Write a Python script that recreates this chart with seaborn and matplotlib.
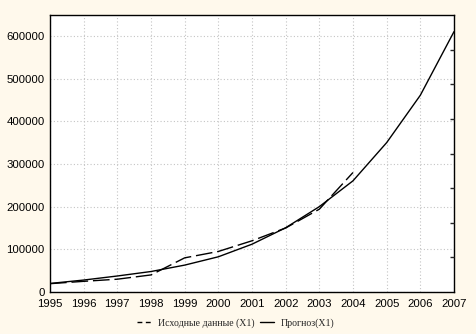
import matplotlib
matplotlib.use("Agg")
import matplotlib.pyplot as plt
import seaborn as sns
import pandas as pd
from matplotlib.lines import Line2D

# Observed series (1995-2004) and exponential forecast (1995-2007)
years_obs = [1995, 1996, 1997, 1998, 1999, 2000, 2001, 2002, 2003, 2004]
values_obs = [19500, 25000, 30000, 40000, 80000, 95000, 120000, 150000, 194000, 280000]

years_fc = [1995, 1996, 1997, 1998, 1999, 2000, 2001, 2002, 2003, 2004, 2005, 2006, 2007]
values_fc = [20000, 28000, 37500, 48000, 63000, 82500, 112000, 150500, 200000, 260500, 350000, 461000, 610000]

label_obs = "Исходные данные (Х1)"
label_fc = "Прогноз(Х1)"

df_obs = pd.DataFrame({"year": years_obs, "value": values_obs})
df_fc = pd.DataFrame({"year": years_fc, "value": values_fc})

sns.set_style("white")
plt.rcParams["font.family"] = ["Liberation Sans", "DejaVu Sans"]

bg = "#FFF9EC"
fig = plt.figure(figsize=(4.76, 3.34), dpi=100, facecolor=bg)
ax = fig.add_axes([50 / 476, 1 - 292 / 334, 404 / 476, 277 / 334])
ax.set_facecolor("white")

sns.lineplot(data=df_obs, x="year", y="value", ax=ax, color="black",
             linewidth=1.0)
sns.lineplot(data=df_fc, x="year", y="value", ax=ax, color="black",
             linewidth=1.0)
ax.lines[0].set_dashes((12, 3.5))

ax.set_xlim(1995, 2007)
ax.set_ylim(0, 649000)
ax.set_xticks(years_fc)
ax.set_xticklabels([str(y) for y in years_fc])
ax.set_yticks([0, 100000, 200000, 300000, 400000, 500000, 600000])
ax.set_yticklabels(["0", "100000", "200000", "300000", "400000", "500000", "600000"])
ax.set_xlabel("")
ax.set_ylabel("")

ax.grid(True, color="#C4C4C4", linestyle=(0, (1, 2)), linewidth=0.8)
ax.tick_params(axis="both", labelsize=8.2, colors="black", length=0)
ax.tick_params(axis="x", pad=5)
ax.tick_params(axis="y", pad=4)

for sp in ax.spines.values():
    sp.set_color("black")
    sp.set_linewidth(1.0)

# Right-side minor ticks dividing the height into eighths
ax2 = ax.twinx()
ax2.set_ylim(0, 8)
ax2.set_yticks(range(1, 8))
ax2.tick_params(axis="y", direction="in", length=3, labelright=False, width=1)
for sp in ax2.spines.values():
    sp.set_visible(False)

handles = [
    Line2D([], [], color="black", linewidth=1.0, dashes=(3.5, 2.5)),
    Line2D([], [], color="black", linewidth=1.0),
]
fig.legend(handles, [label_obs, label_fc], loc="center",
           bbox_to_anchor=(236 / 476, 1 - 323 / 334), ncol=2, frameon=False,
           prop={"family": ["Liberation Serif", "DejaVu Serif"], "size": 7.1},
           handlelength=1.4, columnspacing=0.6, handletextpad=0.7)

fig.savefig("out.png", dpi=100, facecolor=bg)
